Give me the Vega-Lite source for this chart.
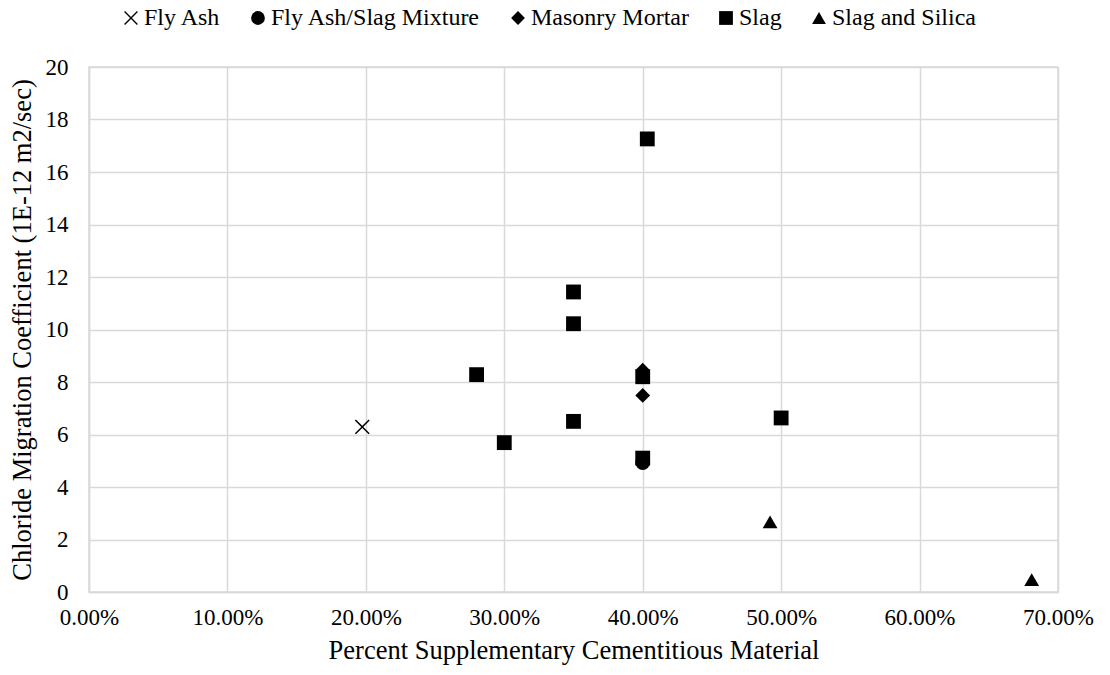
{
  "$schema": "https://vega.github.io/schema/vega-lite/v6.json",
  "width": 969,
  "height": 525,
  "autosize": {"type": "none"},
  "padding": {"left": 89, "top": 67, "right": 52, "bottom": 83},
  "background": "white",
  "config": {
    "font": "Liberation Serif",
    "view": {"stroke": "#d9d9d9", "strokeWidth": 1.5},
    "axis": {
      "gridColor": "#d9d9d9",
      "gridWidth": 1.5,
      "domainColor": "#d9d9d9",
      "domainWidth": 1.5,
      "ticks": false,
      "tickSize": 0,
      "labelFont": "Liberation Serif",
      "labelFontSize": 23,
      "labelColor": "#000000",
      "titleFont": "Liberation Serif",
      "titleFontSize": 26.5,
      "titleFontWeight": "normal",
      "titleColor": "#000000"
    },
    "legend": {
      "labelFont": "Liberation Serif",
      "labelFontSize": 24,
      "labelColor": "#000000",
      "labelLimit": 0
    }
  },
  "data": {
    "values": [
      {"material": "Fly Ash", "pct": 0.1974, "coef": 6.29},
      {"material": "Fly Ash/Slag Mixture", "pct": 0.40, "coef": 4.93},
      {"material": "Masonry Mortar", "pct": 0.40, "coef": 8.45},
      {"material": "Masonry Mortar", "pct": 0.40, "coef": 7.49},
      {"material": "Slag", "pct": 0.28, "coef": 8.28},
      {"material": "Slag", "pct": 0.30, "coef": 5.69},
      {"material": "Slag", "pct": 0.35, "coef": 11.43},
      {"material": "Slag", "pct": 0.35, "coef": 10.22},
      {"material": "Slag", "pct": 0.35, "coef": 6.50},
      {"material": "Slag", "pct": 0.40, "coef": 8.20},
      {"material": "Slag", "pct": 0.40, "coef": 5.10},
      {"material": "Slag", "pct": 0.4033, "coef": 17.26},
      {"material": "Slag", "pct": 0.50, "coef": 6.63},
      {"material": "Slag and Silica", "pct": 0.492, "coef": 2.67},
      {"material": "Slag and Silica", "pct": 0.681, "coef": 0.47}
    ]
  },
  "mark": {"type": "point", "filled": true, "size": 220, "opacity": 1, "color": "#000000"},
  "encoding": {
    "x": {
      "field": "pct",
      "type": "quantitative",
      "title": "Percent Supplementary Cementitious Material",
      "scale": {"domain": [0, 0.7], "nice": false, "zero": true},
      "axis": {"values": [0, 0.1, 0.2, 0.3, 0.4, 0.5, 0.6, 0.7], "format": ".2%", "labelPadding": 14, "titlePadding": 8, "labelFlush": false}
    },
    "y": {
      "field": "coef",
      "type": "quantitative",
      "title": "Chloride Migration Coefficient (1E-12 m2/sec)",
      "scale": {"domain": [0, 20], "nice": false},
      "axis": {"values": [0, 2, 4, 6, 8, 10, 12, 14, 16, 18, 20], "labelPadding": 21, "titlePadding": 9}
    },
    "shape": {
      "field": "material",
      "type": "nominal",
      "scale": {
        "domain": ["Fly Ash", "Fly Ash/Slag Mixture", "Masonry Mortar", "Slag", "Slag and Silica"],
        "range": [
          "M-0.86,-1L0,-0.14L0.86,-1L1,-0.86L0.14,0L1,0.86L0.86,1L0,0.14L-0.86,1L-1,0.86L-0.14,0L-1,-0.86Z",
          "circle",
          "diamond",
          "square",
          "triangle-up"
        ]
      },
      "legend": {
        "title": null,
        "orient": "none",
        "legendX": 30,
        "legendY": -61,
        "direction": "horizontal",
        "labelFont": "Liberation Serif",
        "labelFontSize": 24,
        "labelColor": "#000000",
        "labelLimit": 0,
        "symbolSize": 190,
        "symbolFillColor": "#000000",
        "symbolStrokeColor": "#000000",
        "symbolStrokeWidth": 0,
        "symbolOpacity": 1,
        "labelOffset": 1,
        "columnPadding": 25
      }
    }
  }
}
